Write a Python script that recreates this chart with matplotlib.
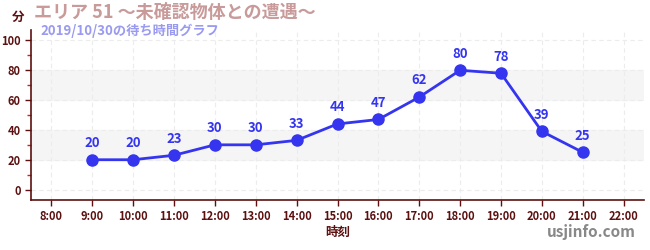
import matplotlib
matplotlib.use("Agg")
import matplotlib.pyplot as plt
import numpy as np

plt.rcParams['font.family'] = ['Noto Sans CJK JP', 'DejaVu Sans']

hours = [9, 10, 11, 12, 13, 14, 15, 16, 17, 18, 19, 20, 21]
waits = [20, 20, 23, 30, 30, 33, 44, 47, 62, 80, 78, 39, 25]
tick_hours = list(range(8, 23))
tick_labels = [f"{h}:00" for h in tick_hours]
title = "エリア 51 ～未確認物体との遭遇～"
subtitle = "2019/10/30の待ち時間グラフ"

axis_col = '#5c1010'
line_col = '#3535f0'

fig = plt.figure(figsize=(6.5, 2.5), dpi=100)
ax = fig.add_axes([31 / 650, 0.2, (644 - 31) / 650, 0.68])

# background bands
for lo, hi in [(20, 40), (60, 80)]:
    ax.axhspan(lo, hi, color='#f5f5f5', zorder=0)

ax.plot(hours, waits, color=line_col, lw=2.0, marker='o', ms=8, zorder=3)
for h, w in zip(hours, waits):
    ax.annotate(str(w), (h, w), xytext=(0, 7), textcoords='offset points',
                ha='center', va='bottom', color=line_col, fontsize=9.5,
                fontweight='bold')

ax.set_xlim(7.5, 22.5)
ax.set_ylim(-7, 107)
ax.set_xticks(tick_hours)
ax.set_xticklabels(tick_labels)
ax.set_yticks(range(0, 101, 20))
ax.set_yticks(range(10, 100, 20), minor=True)
ax.grid(True, color='#ececec', ls=(0, (4, 3)), lw=0.8, zorder=1)
ax.tick_params(axis='both', colors=axis_col, labelsize=8, length=4, width=1)
ax.tick_params(axis='y', which='minor', colors='#d02020', length=3, width=1)
for lab in ax.get_xticklabels() + ax.get_yticklabels():
    lab.set_fontweight('bold')
for s in ['top', 'right']:
    ax.spines[s].set_visible(False)
for s in ['left', 'bottom']:
    ax.spines[s].set_color(axis_col)
    ax.spines[s].set_linewidth(1.2)

fig.text(18 / 650, 1 - 17 / 250, "分", color=axis_col, fontsize=9,
         fontweight='bold', ha='center', va='center')
fig.text(34 / 650, 1 - 13 / 250, title, color='#c99a9a', fontsize=13,
         fontweight='bold', ha='left', va='center')
fig.text(40 / 650, 1 - 31 / 250, subtitle, color='#9a9af0', fontsize=9.5,
         fontweight='bold', ha='left', va='center')
fig.text(338 / 650, 1 - 232 / 250, "時刻", color=axis_col, fontsize=9,
         fontweight='bold', ha='center', va='center')
fig.text(636 / 650, 1 - 232 / 250, "usjinfo.com", color='#888888',
         fontsize=11, fontweight='bold', ha='right', va='center')

fig.savefig("out.png", dpi=100, facecolor='white')
